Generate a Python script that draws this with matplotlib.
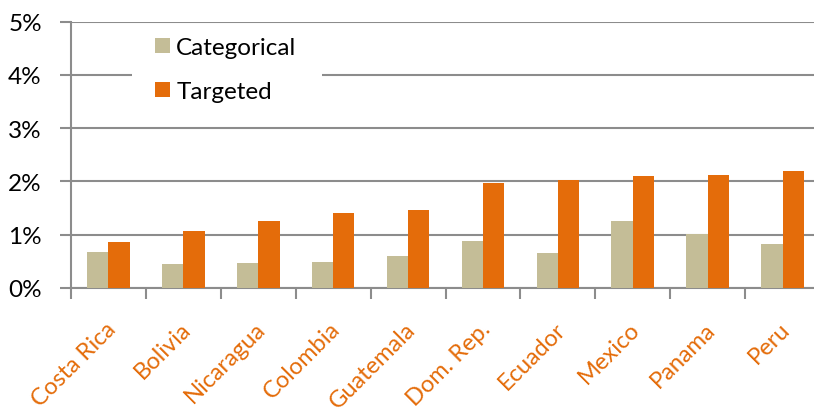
import matplotlib
matplotlib.use("Agg")
import matplotlib.pyplot as plt
import numpy as np
from matplotlib.ticker import FuncFormatter, MultipleLocator
import matplotlib.transforms as mtransforms
from matplotlib.patches import Rectangle

countries = ["Costa Rica", "Bolivia", "Nicaragua", "Colombia", "Guatemala",
             "Dom. Rep.", "Ecuador", "Mexico", "Panama", "Peru"]
categorical = [0.68, 0.46, 0.47, 0.48, 0.61, 0.88, 0.65, 1.26, 1.02, 0.82]
targeted = [0.87, 1.07, 1.25, 1.41, 1.46, 1.98, 2.02, 2.11, 2.12, 2.20]
series_names = ["Categorical", "Targeted"]
colors = ["#C4BD97", "#E46C0A"]

plt.rcParams['font.family'] = ['Lato', 'DejaVu Sans']

W, H = 814, 414
fig = plt.figure(figsize=(W / 100, H / 100), dpi=100)
left_px, right_px, top_px, bot_px = 71, 820, 22.7, 289
ax = fig.add_axes([left_px / W, 1 - bot_px / H, (right_px - left_px) / W, (bot_px - top_px) / H])

x = np.arange(len(countries))
bw = 0.285
grid_c = "#8C8C8C"
ax.bar(x - bw / 2, categorical, bw, color=colors[0], label=series_names[0], zorder=3)
ax.bar(x + bw / 2, targeted, bw, color=colors[1], label=series_names[1], zorder=3)

ax.set_xlim(-0.5, len(countries) - 0.5)
ax.set_ylim(0, 5)
ax.yaxis.set_major_locator(MultipleLocator(1))
ax.yaxis.set_major_formatter(FuncFormatter(lambda v, p: f"{v:.0f}%"))
ax.grid(axis='y', color=grid_c, linewidth=1.5, zorder=0)
ax.set_axisbelow(True)

for s in ['top', 'right']:
    ax.spines[s].set_visible(False)
for s in ['left', 'bottom']:
    ax.spines[s].set_color(grid_c)
    ax.spines[s].set_linewidth(1.5)

ax.tick_params(axis='y', length=8, width=1.5, color=grid_c, labelsize=17.5, pad=13, labelcolor='black')
ax.set_xticks(np.arange(-0.5, len(countries) - 0.5 + 0.01, 1), minor=False)
ax.set_xticklabels([])
ax.tick_params(axis='x', length=8, width=1.5, color=grid_c)
ax.set_xticks(x, minor=True)
ax.set_xticklabels(countries, minor=True, rotation=45, ha='right', va='center',
                   rotation_mode='anchor', color="#E46C0A", fontsize=17)
ax.tick_params(axis='x', which='minor', length=0, pad=27)
off = mtransforms.ScaledTranslation(4 / 100, 0, fig.dpi_scale_trans)
for lbl in ax.get_xticklabels(minor=True):
    lbl.set_transform(lbl.get_transform() + off)

# white backing behind legend (hides gridline like the original)
fig.patches.append(Rectangle((132 / W, 1 - 112 / H), (322 - 132) / W, (112 - 30) / H,
                             transform=fig.transFigure, facecolor='white', edgecolor='none', zorder=1))
ax.set_zorder(0)
ax.patch.set_visible(False)

leg = fig.legend(*ax.get_legend_handles_labels(), loc='upper left',
                 bbox_to_anchor=(155 / W, 1 - 38 / H), bbox_transform=fig.transFigure,
                 frameon=False, fontsize=17.5, handlelength=0.62, handleheight=0.62,
                 handletextpad=0.25, labelspacing=0.95, borderpad=0, borderaxespad=0)
leg.set_zorder(6)

fig.savefig("out.png", dpi=100)
